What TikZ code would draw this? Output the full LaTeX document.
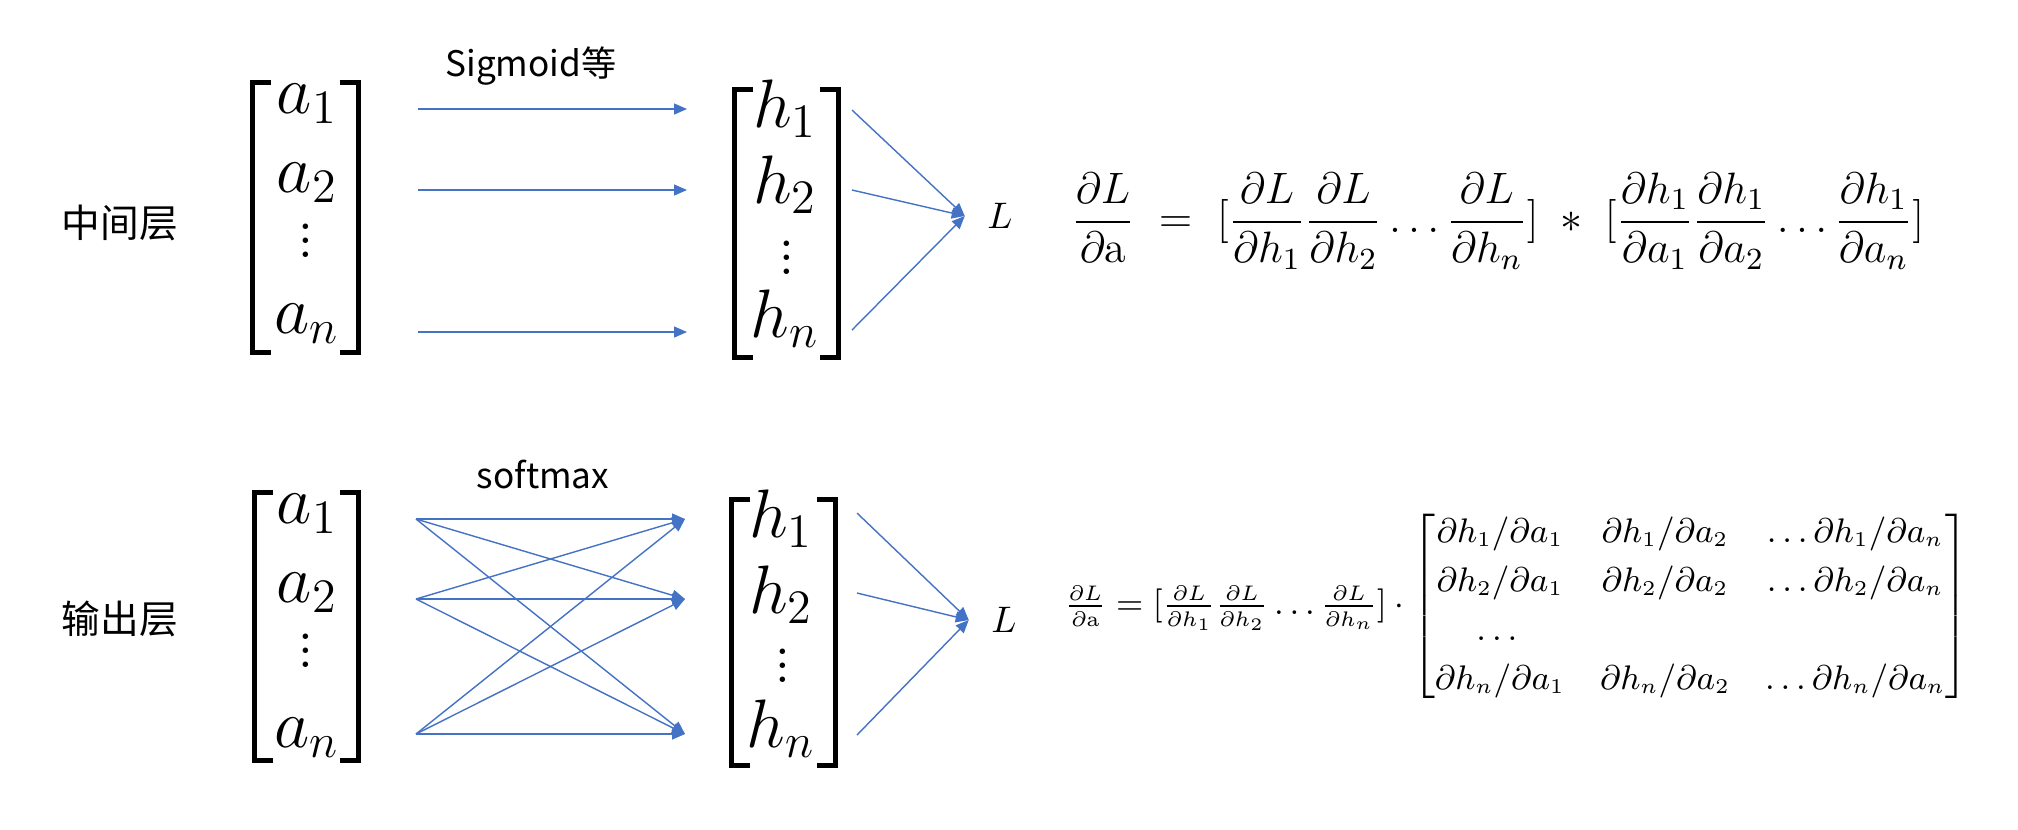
\RequirePackage{fix-cm}
\documentclass[tikz,border=0pt]{standalone}
\usepackage{amsmath,amssymb}
\usepackage{fontspec}
\newfontfamily\cjk{Noto Sans CJK SC}
\usepackage{tikz}
\usetikzlibrary{arrows.meta,positioning,fit}
\definecolor{linkblue}{RGB}{68,114,196}
\newcommand\vdts{\vbox{\baselineskip4pt\lineskiplimit0pt\hbox{.}\hbox{.}\hbox{.}}}
\DeclareMathSizes{9.7}{9.7}{6}{5}

\begin{document}
\begin{tikzpicture}[x=0.01cm,y=-0.01cm,
    ent/.style={font=\fontsize{19.5}{23}\selectfont,anchor=base,inner sep=0},
    dts/.style={font=\fontsize{19}{23}\selectfont,inner sep=0},
    lbl/.style={font=\cjk\fontsize{11}{13}\selectfont,inner sep=0},
    fn/.style={font=\cjk\fontsize{10}{12}\selectfont,inner sep=0},
    box/.style={inner sep=0},
    brk/.style={line width=1.3pt},
    arr/.style={-{Triangle[length=0.13cm,width=0.11cm]},draw=linkblue,line width=0.4pt},
    loss/.style={font=\fontsize{10.5}{12}\selectfont,inner xsep=0.22cm,inner ysep=0},
    eqn/.style={inner sep=0,anchor=west}]
    \useasboundingbox (0,0) rectangle (2018,829);

    \node[lbl] (mid) at (120,223) {中间层};
    \node[ent] (a1) at (307,113) {$a_1$};
    \node[ent] (a2) at (307,192) {$a_2$};
    \node[dts] (ad) at (306,241) {\vdts};
    \node[ent] (an) at (307,333) {$a_n$};
    \node[box,fit={(253,83)(358,352)}] (A1) {};
    \node[ent] (h1) at (785,127) {$h_1$};
    \node[ent] (h2) at (785,203) {$h_2$};
    \node[dts] (hd) at (787,258) {\vdts};
    \node[ent] (hn) at (785,337) {$h_n$};
    \node[box,fit={(735,90)(838,357)}] (H1) {};
    \node[fn] (sig) at (531,66) {Sigmoid等};
    \node[loss] (L1) at (1000,216) {$L$};
    \node[eqn,font=\fontsize{12.5}{15}\selectfont] (f1) at (1071,221) {$\displaystyle \frac{\partial L}{\partial \mathrm{a}} \;=\; [\frac{\partial L}{\partial h_1}\frac{\partial L}{\partial h_2}\dots\frac{\partial L}{\partial h_n}] \;*\; [\frac{\partial h_1}{\partial a_1}\frac{\partial h_1}{\partial a_2}\dots\frac{\partial h_1}{\partial a_n}]$};

    \node[lbl] (out) at (120,619) {输出层};
    \node[ent] (b1) at (307,523) {$a_1$};
    \node[ent] (b2) at (307,602) {$a_2$};
    \node[dts] (bd) at (306,651) {\vdts};
    \node[ent] (bn) at (307,747) {$a_n$};
    \node[box,fit={(255,493)(358,760)}] (A2) {};
    \node[ent] (g1) at (781,537) {$h_1$};
    \node[ent] (g2) at (781,613) {$h_2$};
    \node[dts] (gd) at (783,666) {\vdts};
    \node[ent] (gn) at (781,747) {$h_n$};
    \node[box,fit={(732,500)(835,765)}] (H2) {};
    \node[fn] (soft) at (543,474) {softmax};
    \node[loss] (L2) at (1004,620) {$L$};
    \node[eqn,font=\fontsize{9.7}{10.4}\selectfont] (f2) at (1064,606) {$\frac{\partial L}{\partial \mathrm{a}} = [\frac{\partial L}{\partial h_1}\frac{\partial L}{\partial h_2}\dots\frac{\partial L}{\partial h_n}]\cdot \def\arraystretch{1.34}\begin{bmatrix} \partial h_1/\partial a_1 & \partial h_1/\partial a_2 & \dots\partial h_1/\partial a_n\\ \partial h_2/\partial a_1 & \partial h_2/\partial a_2 & \dots\partial h_2/\partial a_n\\ \dots & & \\ \partial h_n/\partial a_1 & \partial h_n/\partial a_2 & \dots\partial h_n/\partial a_n \end{bmatrix}$};

    \foreach \m in {A1,H1,A2,H2}{
      \draw[brk] ([xshift=0.19cm]\m.north west) -| (\m.south west) -- ++(0.19cm,0);
      \draw[brk] ([xshift=-0.19cm]\m.north east) -| (\m.south east) -- ++(-0.19cm,0);
    }

    \coordinate (ma1) at (418,109);
    \coordinate (ma2) at (418,190);
    \coordinate (man) at (418,332);
    \coordinate (mh1) at (687,109);
    \coordinate (mh2) at (687,190);
    \coordinate (mhn) at (687,332);
    \coordinate (mr1) at (852,110);
    \coordinate (mr2) at (852,190);
    \coordinate (mrn) at (852,330);
    \foreach \i in {1,2,n}{
      \draw[arr] (ma\i) -- (mh\i);
      \draw[arr] (mr\i) -- (L1.west);
    }

    \coordinate (oa1) at (416,519);
    \coordinate (oa2) at (416,599);
    \coordinate (oan) at (416,734);
    \coordinate (oh1) at (685,519);
    \coordinate (oh2) at (685,599);
    \coordinate (ohn) at (685,734);
    \coordinate (or1) at (857,513);
    \coordinate (or2) at (857,593);
    \coordinate (orn) at (857,735);
    \foreach \i in {1,2,n}{
      \foreach \j in {1,2,n}
        \draw[arr] (oa\i) -- (oh\j);
      \draw[arr] (or\i) -- (L2.west);
    }
  \end{tikzpicture}
\end{document}
